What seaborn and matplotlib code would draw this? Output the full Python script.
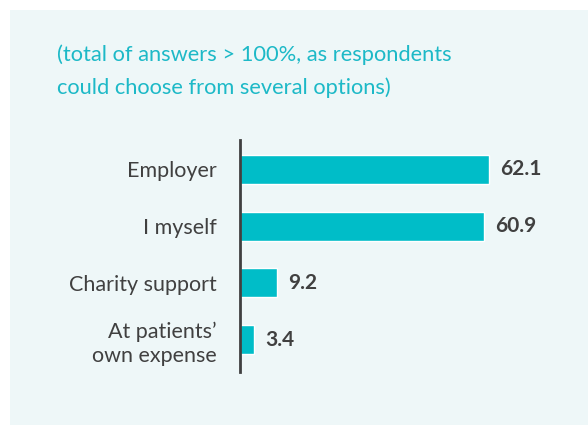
import matplotlib.pyplot as plt
import seaborn as sns
from matplotlib.patches import Rectangle

# data
categories = ["Employer", "I myself", "Charity support", "At patients\u2019\nown expense"]
shares = [62.1, 60.9, 9.2, 3.4]
value_labels = ["62.1", "60.9", "9.2", "3.4"]
subtitle = "(total of answers > 100%, as respondents\ncould choose from several options)"

BAR_COLOR = "#00BDC8"
TEXT_COLOR = "#404040"
TEAL_TEXT = "#1DB9C7"
PANEL = "#EEF7F8"

sns.set_theme(style="white")
plt.rcParams["font.family"] = ["Lato", "DejaVu Sans"]

fig = plt.figure(figsize=(5.88, 4.25), dpi=100)
fig.patch.set_facecolor("white")
fig.add_artist(
    Rectangle((10 / 588, 0), 1, 1 - 10 / 425, transform=fig.transFigure,
              facecolor=PANEL, edgecolor="none", zorder=-10)
)

ax = fig.add_axes([240 / 588, 1 - 372 / 425, 321 / 588, 232 / 425])
ax.set_facecolor("none")
ax.set_zorder(5)

sns.barplot(x=shares, y=categories, orient="h", color=BAR_COLOR,
            width=0.51, saturation=1, ax=ax)

ax.set_xlim(0, 80)
ax.set_ylim(3.57, -0.52)
ax.set_xticks([])
ax.set_xlabel("")
ax.set_ylabel("")

for side in ["top", "right", "bottom"]:
    ax.spines[side].set_visible(False)
ax.spines["left"].set_color(TEXT_COLOR)
ax.spines["left"].set_linewidth(2)

ax.tick_params(axis="y", length=0, pad=17, labelsize=15.5, labelcolor=TEXT_COLOR)
for lbl in ax.get_yticklabels():
    lbl.set_horizontalalignment("right")
    lbl.set_linespacing(1.25)

ax.bar_label(ax.containers[0], labels=value_labels, padding=8,
             fontsize=15, fontweight="bold", color=TEXT_COLOR)

fig.text(57 / 588, 1 - 44 / 425, subtitle, ha="left", va="top",
         fontsize=15.75, color=TEAL_TEXT, linespacing=1.8)

fig.savefig("out.png", dpi=100)
